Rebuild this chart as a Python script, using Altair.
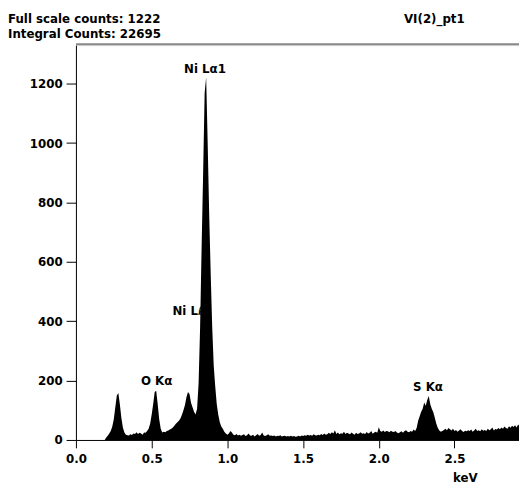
import altair as alt
import pandas as pd

# Energy channels (keV), 10 eV wide, and counts
energy_start = 0.0
channel_width = 0.01
counts = [
    0, 0, 0, 0, 0, 0, 0, 0, 0, 0,
    0, 0, 0, 0, 0, 0, 0, 0, 0, 0,
    8, 14, 22, 30, 45, 70, 110, 150, 158, 120,
    75, 42, 25, 18, 16, 15, 19, 17, 22, 20,
    26, 20, 24, 22, 18, 25, 24, 30, 38, 55,
    85, 120, 162, 166, 120, 70, 38, 25, 28, 26,
    30, 32, 35, 38, 42, 48, 55, 60, 65, 72,
    85, 100, 118, 145, 162, 155, 125, 110, 95, 86,
    105, 190, 380, 650, 900, 1170, 1222, 1000, 760, 560,
    380, 250, 180, 120, 85, 60, 45, 38, 28, 22,
    18, 22, 30, 25, 18, 16, 20, 15, 18, 14,
    17, 19, 13, 16, 22, 15, 14, 18, 12, 16,
    20, 14, 17, 25, 15, 13, 16, 19, 14, 15,
    13, 15, 12, 14, 13, 16, 12, 13, 14, 12,
    13, 12, 14, 12, 13, 11, 12, 14, 12, 15,
    13, 16, 14, 18, 15, 17, 14, 19, 16, 15,
    18, 16, 20, 17, 22, 18, 19, 24, 20, 26,
    22, 33, 20, 25, 19, 23, 21, 28, 20, 24,
    22, 19, 25, 21, 18, 24, 20, 22, 26, 21,
    23, 20, 27, 22, 24, 30, 21, 25, 28, 24,
    43, 30, 28, 32, 27, 30, 29, 26, 31, 28,
    27, 30, 25, 23, 26, 29, 24, 30, 33, 28,
    26, 30, 28, 35, 30, 40, 65, 80, 95, 105,
    126, 115, 135, 148, 120, 105, 93, 75, 55, 40,
    32, 28, 30, 34, 38, 33, 40, 36, 32, 38,
    30, 34, 28, 32, 36, 30, 27, 31, 29, 33,
    30, 35, 28, 32, 38, 30, 33, 29, 36, 31,
    34, 30, 38, 33, 36, 42, 32, 37, 35, 40,
    36, 42, 38, 45, 40, 38, 46, 41, 48, 44,
    50, 42, 52, 47,
]
energies = [round(energy_start + i * channel_width, 2) for i in range(len(counts))]

# Peak labels
label_text = ["Ni L\u03b11", "O K\u03b1", "S K\u03b1"]
label_kev = [0.852, 0.533, 2.325]
label_cnt = [1236, 186, 166]

hidden_label = ["Ni L\u2113"]
hidden_kev = [0.637]
hidden_cnt = [421]

x_ticks = [0.0, 0.5, 1.0, 1.5, 2.0, 2.5]
y_ticks = [0, 200, 400, 600, 800, 1000, 1200]

header_line1 = ["Full scale counts: 1222"]
header_line2 = ["Integral Counts: 22695"]
sample_title = ["VI(2)_pt1"]

FONT = "DejaVu Sans"
X_MAX = 2.926
Y_MAX = 1330

spec = pd.DataFrame({"keV": energies, "counts": counts})
lab = pd.DataFrame({"t": label_text, "keV": label_kev, "counts": label_cnt})
hid = pd.DataFrame({"t": hidden_label, "keV": hidden_kev, "counts": hidden_cnt})

xscale = alt.Scale(domain=[0, X_MAX], nice=False)
yscale = alt.Scale(domain=[0, Y_MAX], nice=False)

xaxis = alt.Axis(values=x_ticks, format=".1f", title="keV", grid=False,
                 labelFont=FONT, labelFontWeight="bold", labelFontSize=12,
                 labelColor="black", labelPadding=6, tickSize=8, tickColor="black",
                 domainColor="black", titleFont=FONT, titleFontWeight="bold",
                 titleFontSize=12, titleColor="black", titleX=395, titleY=42,
                 titleAlign="center", titleBaseline="alphabetic", labelFlush=False)
yaxis = alt.Axis(values=y_ticks, format="d", title=None, grid=False,
                 labelFont=FONT, labelFontWeight="bold", labelFontSize=12,
                 labelColor="black", labelPadding=4, tickSize=10, tickColor="black",
                 domainColor="black", labelFlush=False)

text_style = dict(font=FONT, fontWeight="bold", fontSize=12, baseline="alphabetic",
                  color="black")

hidden_text = alt.Chart(hid).mark_text(align="left", **text_style).encode(
    x=alt.X("keV:Q", scale=xscale), y=alt.Y("counts:Q", scale=yscale), text="t:N")

area = alt.Chart(spec).mark_area(color="black", interpolate="linear", clip=True).encode(
    x=alt.X("keV:Q", scale=xscale, axis=xaxis),
    y=alt.Y("counts:Q", scale=yscale, axis=yaxis),
)

labels = alt.Chart(lab).mark_text(align="center", **text_style).encode(
    x=alt.X("keV:Q", scale=xscale), y=alt.Y("counts:Q", scale=yscale), text="t:N")

top_rule = alt.Chart(pd.DataFrame({"t": sample_title})).mark_rule(
    color="#888888", strokeWidth=2
).encode(x=alt.value(0), x2=alt.value(450), y=alt.value(-1))

hdr1 = alt.Chart(pd.DataFrame({"t": header_line1})).mark_text(
    align="left", **text_style
).encode(x=alt.value(-69), y=alt.value(-23), text="t:N")
hdr2 = alt.Chart(pd.DataFrame({"t": header_line2})).mark_text(
    align="left", **text_style
).encode(x=alt.value(-69), y=alt.value(-7), text="t:N")
ttl = alt.Chart(pd.DataFrame({"t": sample_title})).mark_text(
    align="center", **text_style
).encode(x=alt.value(364), y=alt.value(-23), text="t:N")

chart = alt.layer(hidden_text, area, labels, top_rule, hdr1, hdr2, ttl).properties(
    width=450, height=401,
    autosize=alt.AutoSizeParams(type="none"),
    padding={"left": 69, "top": 34, "right": 0, "bottom": 42},
).configure_view(stroke=None).configure(background="white")

chart.save("out.html", embed_options={"renderer": "svg", "actions": False})
